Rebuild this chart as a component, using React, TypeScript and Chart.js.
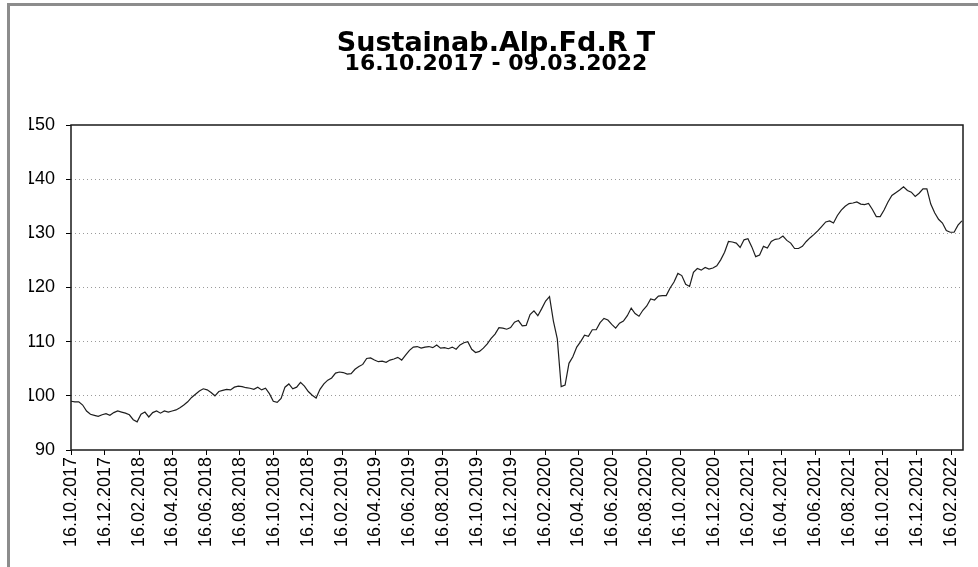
import React, { useEffect, useRef } from "react";
import { Chart, registerables } from "chart.js";

Chart.register(...registerables);

const TITLE = "Sustainab.Alp.Fd.R T";
const SUBTITLE = "16.10.2017 - 09.03.2022";
const START_DATE = "16.10.2017";
const END_DATE = "09.03.2022";
const STEP_DAYS = 7; // one value per week

const tickLabels = [
  "16.10.2017", "16.12.2017", "16.02.2018", "16.04.2018", "16.06.2018", "16.08.2018",
  "16.10.2018", "16.12.2018", "16.02.2019", "16.04.2019", "16.06.2019", "16.08.2019",
  "16.10.2019", "16.12.2019", "16.02.2020", "16.04.2020", "16.06.2020", "16.08.2020",
  "16.10.2020", "16.12.2020", "16.02.2021", "16.04.2021", "16.06.2021", "16.08.2021",
  "16.10.2021", "16.12.2021", "16.02.2022",
];

const yMin = 90;
const yMax = 150;
const yStep = 10;

const values = [
  99.0, 98.9, 98.9, 98.3, 97.2, 96.6, 96.4, 96.2, 96.5, 96.7,
  96.4, 96.9, 97.2, 97.0, 96.8, 96.5, 95.6, 95.2, 96.6, 97.0,
  96.1, 96.9, 97.2, 96.8, 97.2, 97.0, 97.2, 97.4, 97.8, 98.3,
  98.9, 99.7, 100.3, 100.9, 101.3, 101.1, 100.6, 100.0,
  100.8, 101.0, 101.2, 101.1, 101.6, 101.8, 101.7, 101.5, 101.4, 101.2,
  101.6, 101.1, 101.4, 100.4, 99.0, 98.8, 99.5, 101.6, 102.2, 101.3,
  101.6, 102.5, 101.8, 100.8, 100.1, 99.6, 101.2, 102.2, 102.9, 103.3,
  104.2, 104.4, 104.3, 104.0, 104.1, 104.9, 105.4, 105.8,
  106.9, 107.0, 106.6, 106.3, 106.4, 106.2, 106.6, 106.8, 107.1, 106.6,
  107.5, 108.4, 109.0, 109.1, 108.8, 109.0, 109.1, 108.9, 109.4, 108.8,
  108.9, 108.7, 109.0, 108.6, 109.4, 109.8, 110.0, 108.6, 108.0, 108.2,
  108.8, 109.6, 110.6, 111.4, 112.6, 112.5, 112.3,
  112.6, 113.6, 113.9, 112.9, 113.0, 115.0, 115.7, 114.8, 116.1, 117.5,
  118.3, 113.8, 110.5, 101.7, 102.0, 106.0, 107.2, 109.0, 110.0, 111.2,
  111.0, 112.2, 112.2, 113.5, 114.3, 114.0, 113.2, 112.5, 113.4, 113.8,
  114.8, 116.2, 115.2, 114.7, 115.8, 116.6, 117.9, 117.7,
  118.4, 118.5, 118.5, 119.9, 121.0, 122.6, 122.2, 120.6, 120.2, 122.8,
  123.5, 123.2, 123.7, 123.4, 123.6, 124.0, 125.1, 126.5, 128.5, 128.4,
  128.2, 127.4, 128.8, 129.0, 127.5, 125.7, 126.0, 127.6, 127.3, 128.5,
  128.9, 129.0, 129.5, 128.7, 128.2, 127.2, 127.2,
  127.6, 128.5, 129.2, 129.8, 130.5, 131.3, 132.1, 132.3, 131.9, 133.3,
  134.3, 135.0, 135.5, 135.6, 135.8, 135.4, 135.3, 135.5, 134.4, 133.1,
  133.1, 134.3, 135.8, 137.0, 137.5, 138.0, 138.6, 137.9, 137.6, 136.8,
  137.4, 138.2, 138.2, 135.4, 133.8, 132.6, 131.9, 130.5, 130.2, 130.2, 131.5, 132.3,
];

function parseDate(s: string): number {
  const [d, m, y] = s.split(".").map(Number);
  return Date.UTC(y, m - 1, d);
}

function dayOffset(s: string): number {
  return Math.round((parseDate(s) - parseDate(START_DATE)) / 86400000);
}

const FONT = "'Liberation Sans', Arial, sans-serif";

const framePlugin = {
  id: "plotFrame",
  afterDatasetsDraw(chart: any) {
    const { ctx, chartArea } = chart;
    ctx.save();
    ctx.strokeStyle = "#1a1a1a";
    ctx.lineWidth = 1.5;
    ctx.strokeRect(
      chartArea.left,
      chartArea.top,
      chartArea.right - chartArea.left,
      chartArea.bottom - chartArea.top
    );
    ctx.restore();
  },
};

export default function App() {
  const canvasRef = useRef<HTMLCanvasElement | null>(null);

  useEffect(() => {
    if (!canvasRef.current) return;
    const tickDays = tickLabels.map(dayOffset);
    const data = values.map((v, i) => ({ x: i * STEP_DAYS, y: v }));

    const chart = new Chart(canvasRef.current, {
      type: "line",
      data: {
        datasets: [
          {
            data,
            borderColor: "#1e1e1e",
            borderWidth: 1.2,
            pointRadius: 0,
            tension: 0,
            fill: false,
          },
        ],
      },
      options: {
        animation: false,
        responsive: false,
        maintainAspectRatio: false,
        devicePixelRatio: 1,
        layout: { padding: { left: 29, right: 15, top: 0, bottom: 0 } },
        plugins: {
          legend: { display: false },
          tooltip: { enabled: false },
          title: {
            display: true,
            text: TITLE,
            color: "#000",
            font: { family: "'DejaVu Sans', sans-serif", size: 27, weight: "bold", lineHeight: 1 },
            padding: { top: 30, bottom: 0 },
          },
          subtitle: {
            display: true,
            text: SUBTITLE,
            color: "#000",
            font: { family: "'DejaVu Sans', sans-serif", size: 22, weight: "bold", lineHeight: 0.7 },
            padding: { top: 0, bottom: 52.6 },
          },
        },
        scales: {
          x: {
            type: "linear",
            min: 0,
            max: dayOffset(END_DATE),
            afterBuildTicks: (scale: any) => {
              scale.ticks = tickDays.map((v) => ({ value: v }));
            },
            afterFit: (scale: any) => {
              scale.height = 117;
            },
            grid: {
              drawOnChartArea: false,
              drawTicks: true,
              tickLength: 5,
              tickColor: "#000",
              tickWidth: 1,
            },
            border: { display: false },
            ticks: {
              autoSkip: false,
              minRotation: 90,
              maxRotation: 90,
              padding: 2,
              color: "#000",
              font: { family: FONT, size: 18 },
              callback: (_v: any, index: number) => tickLabels[index],
            },
          },
          y: {
            min: yMin,
            max: yMax,
            afterFit: (scale: any) => {
              scale.width = 42;
            },
            grid: {
              color: (ctx: any) =>
                ctx.tick && (ctx.tick.value === yMin || ctx.tick.value === yMax)
                  ? "rgba(0,0,0,0)"
                  : "#9a9a9a",
              lineWidth: 1,
              drawTicks: true,
              tickLength: 5,
              tickColor: "#000",
              tickWidth: 1,
            },
            border: { display: false, dash: [1, 3] },
            ticks: {
              stepSize: yStep,
              padding: 11,
              color: "#000",
              font: { family: FONT, size: 18 },
            },
          },
        },
      },
      plugins: [framePlugin],
    } as any);

    return () => chart.destroy();
  }, []);

  return (
    <div
      style={{
        position: "absolute",
        left: 0,
        top: 0,
        width: 978,
        height: 567,
        background: "#fff",
        overflow: "hidden",
      }}
    >
      <canvas ref={canvasRef} width={978} height={567} style={{ display: "block" }} />
      <div style={{ position: "absolute", left: 7, top: 3, width: 3, height: 564, background: "#8c8c8c" }} />
      <div style={{ position: "absolute", left: 7, top: 3, width: 971, height: 3, background: "#8c8c8c" }} />
    </div>
  );
}
